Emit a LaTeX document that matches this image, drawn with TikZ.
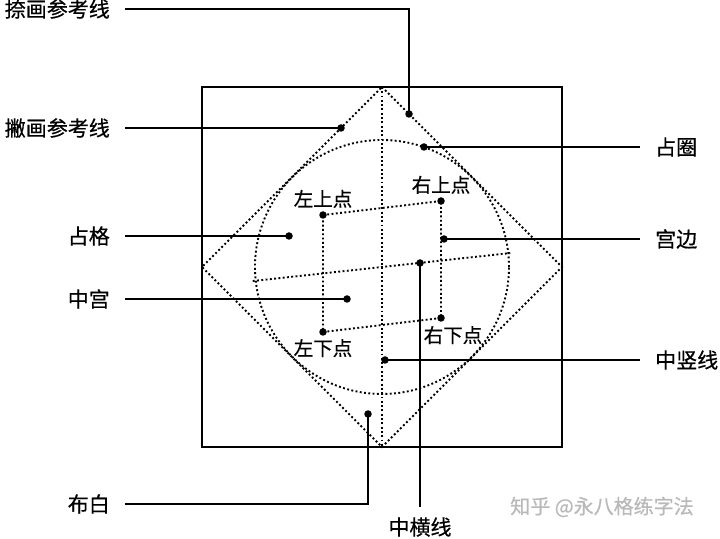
\documentclass[tikz,border=0pt]{standalone}
\usepackage{fontspec}
\newfontfamily\cjk[FakeBold=0.6]{Noto Sans CJK SC}
\usetikzlibrary{positioning, calc}

\begin{document}
\begin{tikzpicture}[
    x=1pt, y=1pt,
    callout/.style={font=\cjk\fontsize{21pt}{21pt}\selectfont, inner xsep=15pt, inner ysep=10pt},
    ptlabel/.style={font=\cjk\fontsize{19.5pt}{19.5pt}\selectfont, inner sep=0pt},
    dotmark/.style={circle, fill, inner sep=0pt, minimum size=7.5pt},
    guide/.style={line width=1.9pt, dash pattern=on 1.9pt off 2.4pt},
    lead/.style={line width=2pt}
]
\useasboundingbox (0,0) rectangle (720,538);

% Frame, diamond, circle and centre lines
\node[draw, line width=2pt, minimum size=360, inner sep=0pt, outer sep=0pt] (frame) at (382,271) {};
\draw[guide] (frame.north) -- (frame.east) -- (frame.south) -- (frame.west) -- cycle;
\draw[guide] (frame.north) -- (frame.south);
\node[draw, guide, circle, minimum size=254, inner sep=0pt, outer sep=0pt] (ring) at (frame.center) {};
\coordinate (hLeft) at ($(frame.center)+(186.2:130)$);
\coordinate (hRight) at ($(frame.center)+(6.2:129)$);
\draw[guide] (hLeft) -- (hRight);

% Four corner points
\node[dotmark] (lt) at (323,323) {};
\node[dotmark] (rt) at (441,337) {};
\node[dotmark] (rb) at (441,220) {};
\node[dotmark] (lb) at (323,206) {};
\draw[guide] (lt.center) -- (rt.center) -- (rb.center) -- (lb.center) -- cycle;
\node[ptlabel, above=3pt of lt] (ltText) {左上点};
\node[ptlabel, above=3pt of rt] (rtText) {右上点};
\node[ptlabel, below=4pt of rb, xshift=12pt] (rbText) {右下点};
\node[ptlabel, below=3pt of lb] (lbText) {左下点};

% Callouts on the left
\node[dotmark] (naDot) at (409,424) {};
\node[callout, anchor=east] (na) at (125,529) {捺画参考线};
\draw[lead] (na.east) -| (naDot.center);

\node[dotmark] (pieDot) at (341,410) {};
\node[callout, anchor=east] (pie) at (125,410) {撇画参考线};
\draw[lead] (pie.east) -- (pieDot.center);

\node[dotmark] (geDot) at (289,302) {};
\node[callout, anchor=east] (ge) at (125,302) {占格};
\draw[lead] (ge.east) -- (geDot.center);

\node[dotmark] (gongDot) at (347,239) {};
\node[callout, anchor=east] (gong) at (125,239) {中宫};
\draw[lead] (gong.east) -- (gongDot.center);

\node[dotmark] (buDot) at (368,124) {};
\node[callout, anchor=east] (bu) at (125,34) {布白};
\draw[lead] (bu.east) -| (buDot.center);

% Callouts on the right
\node[dotmark] (quanDot) at (424,391) {};
\node[callout, anchor=west] (quan) at (640,391) {占圈};
\draw[lead] (quanDot.center) -- (quan.west);

\node[dotmark] (bianDot) at (444,299) {};
\node[callout, anchor=west] (bian) at (640,299) {宫边};
\draw[lead] (bianDot.center) -- (bian.west);

\node[dotmark] (shuDot) at (385,178) {};
\node[callout, anchor=west] (shu) at (640,178) {中竖线};
\draw[lead] (shuDot.center) -- (shu.west);

% Callout at the bottom
\node[dotmark] (hengDot) at (420,275) {};
\node[callout] (heng) at (420,11) {中横线};
\draw[lead] (hengDot.center) -- (heng.north);

% Watermark
\node[font=\cjk\fontsize{20pt}{20pt}\selectfont, text=gray!55] (mark) at (602,31) {知乎 @永八格练字法};

\end{tikzpicture}
\end{document}
